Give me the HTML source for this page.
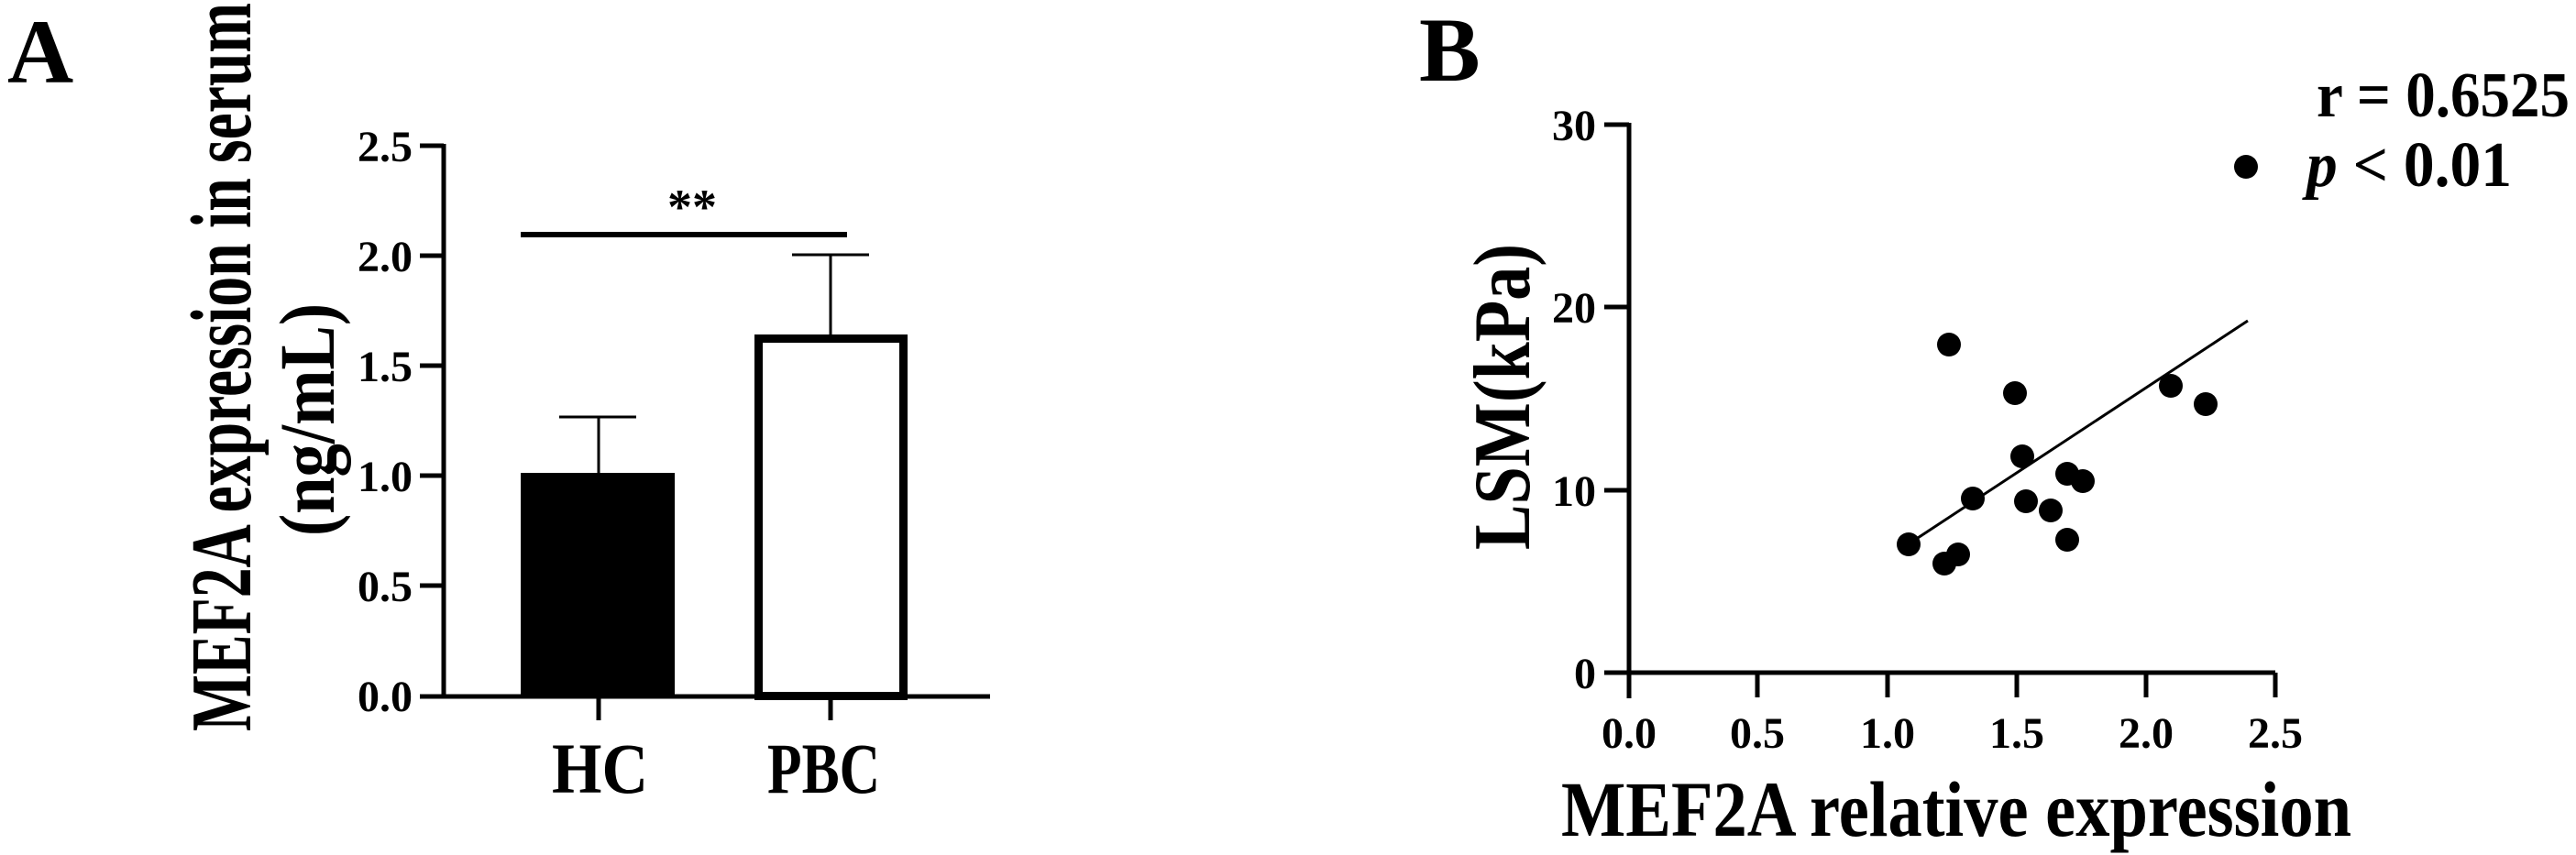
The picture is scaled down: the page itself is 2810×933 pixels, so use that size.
<!DOCTYPE html>
<html><head><meta charset="utf-8"><style>
html,body{margin:0;padding:0;background:#fff;}
svg{display:block;}
text{font-family:"Liberation Serif",serif;font-weight:bold;fill:#000;}
</style></head><body>
<svg width="2810" height="933" viewBox="0 0 2810 933" xmlns="http://www.w3.org/2000/svg">
<!-- Panel A -->
<text x="8" y="90" font-size="100">A</text>
<text transform="translate(273,798) rotate(-90)" font-size="94" textLength="795" lengthAdjust="spacingAndGlyphs">MEF2A expression in serum</text>
<text transform="translate(364,585) rotate(-90)" font-size="86" textLength="254" lengthAdjust="spacingAndGlyphs">(ng/mL)</text>
<g stroke="#000" stroke-width="5" fill="none">
<line x1="484" y1="157" x2="484" y2="762"/>
<line x1="458" y1="760" x2="1080" y2="760"/>
<line x1="458" y1="159" x2="484" y2="159"/>
<line x1="458" y1="279" x2="484" y2="279"/>
<line x1="458" y1="399" x2="484" y2="399"/>
<line x1="458" y1="519" x2="484" y2="519"/>
<line x1="458" y1="639" x2="484" y2="639"/>
<line x1="653" y1="760" x2="653" y2="786"/>
<line x1="906" y1="760" x2="906" y2="786"/>
</g>
<g font-size="48" text-anchor="end">
<text x="450" y="176">2.5</text>
<text x="450" y="296">2.0</text>
<text x="450" y="416">1.5</text>
<text x="450" y="536">1.0</text>
<text x="450" y="656">0.5</text>
<text x="450" y="776">0.0</text>
</g>
<g stroke="#000" stroke-width="3">
<line x1="653" y1="516" x2="653" y2="455"/>
<line x1="610" y1="455" x2="694" y2="455"/>
<line x1="906" y1="368" x2="906" y2="278"/>
<line x1="864" y1="278" x2="948" y2="278"/>
</g>
<rect x="568" y="516" width="168" height="244" fill="#000"/>
<rect x="827.5" y="369.5" width="158" height="390" fill="#fff" stroke="#000" stroke-width="9"/>
<line x1="568" y1="256" x2="924" y2="256" stroke="#000" stroke-width="6"/>
<text x="755" y="244" font-size="54" font-weight="normal" text-anchor="middle">**</text>
<text x="602" y="865" font-size="78" textLength="105" lengthAdjust="spacingAndGlyphs">HC</text>
<text x="837" y="865" font-size="78" textLength="123" lengthAdjust="spacingAndGlyphs">PBC</text>

<!-- Panel B -->
<text x="1548" y="88" font-size="100">B</text>
<text transform="translate(1668,600) rotate(-90)" font-size="88" textLength="334" lengthAdjust="spacingAndGlyphs">LSM(kPa)</text>
<g stroke="#000" stroke-width="5" fill="none">
<line x1="1777" y1="134" x2="1777" y2="762"/>
<line x1="1750" y1="734" x2="2482" y2="734"/>
<line x1="1750" y1="136" x2="1777" y2="136"/>
<line x1="1750" y1="335" x2="1777" y2="335"/>
<line x1="1750" y1="535" x2="1777" y2="535"/>
<line x1="1917" y1="734" x2="1917" y2="761"/>
<line x1="2059" y1="734" x2="2059" y2="761"/>
<line x1="2200" y1="734" x2="2200" y2="761"/>
<line x1="2341" y1="734" x2="2341" y2="761"/>
<line x1="2482" y1="734" x2="2482" y2="761"/>
</g>
<g font-size="48" text-anchor="end">
<text x="1741" y="153">30</text>
<text x="1741" y="352">20</text>
<text x="1741" y="552">10</text>
<text x="1741" y="751">0</text>
</g>
<g font-size="48" text-anchor="middle">
<text x="1777" y="816">0.0</text>
<text x="1917" y="816">0.5</text>
<text x="2059" y="816">1.0</text>
<text x="2200" y="816">1.5</text>
<text x="2341" y="816">2.0</text>
<text x="2482" y="816">2.5</text>
</g>
<text x="1703" y="912" font-size="86" textLength="862" lengthAdjust="spacingAndGlyphs">MEF2A relative expression</text>
<line x1="2092" y1="587" x2="2452" y2="350" stroke="#000" stroke-width="3"/>
<g fill="#000">
<circle cx="2082" cy="594" r="13"/>
<circle cx="2121" cy="615" r="13"/>
<circle cx="2136" cy="605" r="13"/>
<circle cx="2126" cy="376" r="13"/>
<circle cx="2152" cy="544" r="13"/>
<circle cx="2198" cy="429" r="13"/>
<circle cx="2206" cy="498" r="13"/>
<circle cx="2210" cy="547" r="13"/>
<circle cx="2237" cy="557" r="13"/>
<circle cx="2255" cy="517" r="13"/>
<circle cx="2272" cy="525" r="13"/>
<circle cx="2255" cy="589" r="13"/>
<circle cx="2368" cy="421" r="13"/>
<circle cx="2406" cy="441" r="13"/>
<circle cx="2450" cy="182" r="13"/>
</g>
<text x="2527" y="127" font-size="70" textLength="276" lengthAdjust="spacingAndGlyphs">r = 0.6525</text>
<text x="2516" y="203" font-size="70" textLength="224" lengthAdjust="spacingAndGlyphs"><tspan font-style="italic">p</tspan> &lt; 0.01</text>
</svg>
</body></html>
